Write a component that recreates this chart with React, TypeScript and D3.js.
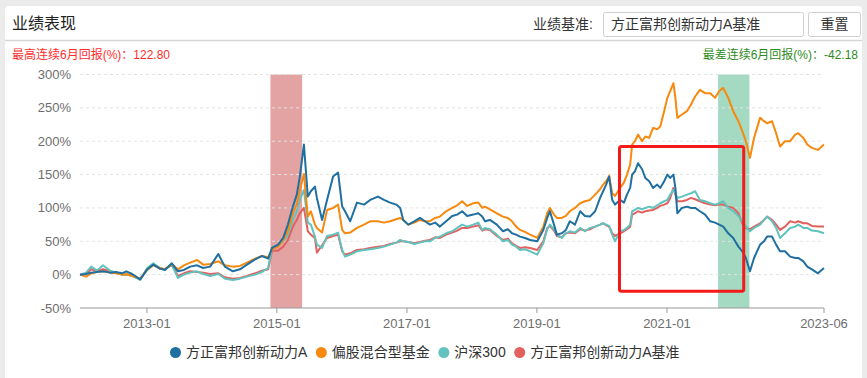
import React, { useMemo } from "react";
import * as d3 from "d3";

const dates = [
  "2011-12-22","2012-01-25","2012-02-23","2012-03-26","2012-04-29","2012-06-08","2012-07-11","2012-08-14","2012-09-07","2012-10-10","2012-11-24",
  "2013-01-03","2013-02-06","2013-03-15","2013-04-12","2013-05-21","2013-06-24","2013-07-28","2013-09-01","2013-10-10","2013-11-13","2013-12-22",
  "2014-02-06","2014-03-15","2014-04-29","2014-06-08","2014-07-17","2014-09-01","2014-10-10","2014-11-13","2014-12-05",
  "2015-01-08","2015-02-06","2015-03-04","2015-04-01","2015-04-23","2015-05-10","2015-06-02","2015-06-24","2015-07-11","2015-08-03","2015-08-14","2015-09-12","2015-10-10","2015-11-13","2015-12-11",
  "2016-01-03","2016-01-19","2016-02-17","2016-03-26","2016-05-05","2016-06-08","2016-07-22","2016-08-25","2016-09-28","2016-11-02","2016-11-24","2016-12-11",
  "2017-01-08","2017-02-11","2017-03-15","2017-04-12","2017-05-10","2017-06-08","2017-07-05","2017-08-09","2017-09-12","2017-10-10","2017-11-07","2017-12-05",
  "2018-01-08","2018-02-06","2018-02-28","2018-03-15","2018-04-12","2018-05-21","2018-06-24","2018-07-22","2018-08-14","2018-09-06","2018-09-28","2018-10-26","2018-11-24",
  "2019-01-03","2019-02-06","2019-02-28","2019-03-15","2019-04-07","2019-04-23","2019-05-21","2019-06-13","2019-07-05","2019-08-03","2019-09-01","2019-09-28","2019-10-26","2019-11-24","2019-12-22",
  "2020-01-08","2020-01-25","2020-02-11","2020-02-28","2020-03-15","2020-04-12","2020-05-04","2020-05-21","2020-06-08","2020-06-19","2020-07-05","2020-07-22","2020-08-14","2020-09-01","2020-09-23","2020-10-15","2020-11-07","2020-11-24","2020-12-16",
  "2021-01-03","2021-01-19","2021-02-06","2021-02-17","2021-02-28","2021-03-26","2021-04-23","2021-05-16","2021-06-08","2021-07-05","2021-08-03","2021-09-01","2021-09-28","2021-10-21","2021-11-13","2021-12-11",
  "2022-01-08","2022-02-06","2022-02-28","2022-03-20","2022-04-12","2022-05-05","2022-06-08","2022-06-30","2022-07-17","2022-08-14","2022-09-06","2022-09-28","2022-10-26","2022-11-24","2022-12-22",
  "2023-01-08","2023-02-06","2023-02-28","2023-03-26","2023-04-29","2023-06-02",
];

// 方正富邦创新动力A
const fundA = [
  0,1,3,4,5,3,4,2,5,1,-7,
  8,15,9,7,17,5,7,12,14,10,12,
  31,12,5,8,15,23,28,24,40,
  45,55,75,102,120,147,195,117,125,132,115,82,112,147,153,
  102,95,80,108,105,112,117,112,108,105,100,82,
  75,80,85,80,75,78,72,80,88,90,95,88,
  90,92,87,80,82,75,65,68,62,60,57,55,52,
  50,67,85,95,75,60,62,67,80,75,95,88,87,95,115,
  125,135,147,112,105,112,108,120,130,150,155,167,158,145,140,130,135,130,140,
  150,145,150,130,92,100,102,100,100,95,90,80,78,75,72,62,
  55,42,35,25,5,25,45,50,57,57,45,35,35,27,25,
  25,20,12,8,2,10,
];

// 偏股混合型基金
const fundType = [
  0,-3,2,4,5,3,2,0,1,-2,-6,
  7,14,10,8,16,8,14,18,22,15,16,
  20,14,12,13,18,24,28,26,38,
  42,52,65,93,105,127,151,87,95,75,70,63,97,100,105,
  67,62,63,70,75,80,80,78,80,83,85,82,
  75,78,82,80,80,85,87,95,100,104,110,103,
  107,108,100,102,98,92,87,85,80,72,67,64,60,
  55,72,92,100,90,85,85,88,95,100,107,110,112,120,128,
  135,140,148,122,118,130,138,150,165,195,200,210,200,207,205,220,218,222,245,
  265,275,287,265,235,240,245,255,267,277,272,272,265,275,280,265,
  245,230,215,200,175,205,235,230,227,230,212,192,200,200,210,
  212,205,195,190,187,195,
];

// 沪深300
const hs300 = [
  0,3,12,6,14,6,3,0,0,-2,-8,
  10,17,10,8,15,-5,0,3,5,1,-2,
  1,-6,-8,-6,-3,0,4,10,40,
  45,50,60,82,95,112,127,78,75,57,45,40,58,60,63,
  37,27,30,35,37,38,40,42,45,48,52,50,
  49,46,48,50,50,55,57,62,65,70,75,72,
  75,78,67,70,68,60,50,52,45,42,37,38,35,
  30,47,68,75,68,60,55,62,65,63,70,65,70,72,75,
  77,75,73,60,50,65,67,70,75,95,97,100,98,100,102,100,104,107,110,
  112,120,127,122,115,117,120,122,125,112,110,107,105,107,110,100,
  95,88,80,72,65,70,75,82,87,80,70,55,62,70,72,
  75,70,70,66,65,62,
];

// 方正富邦创新动力A基准
const benchmark = [
  0,1,8,5,8,5,3,0,0,-1,-7,
  9,16,9,8,15,-2,2,5,4,3,1,
  2,-4,-6,-5,-2,2,6,8,36,
  36,42,52,72,82,92,100,65,60,55,33,44,55,58,60,
  35,30,32,37,38,40,42,43,46,48,50,50,
  49,47,49,51,52,56,55,60,63,66,70,70,
  72,74,66,68,67,58,52,54,47,43,40,41,40,
  37,50,70,73,66,58,56,62,63,62,68,66,68,72,75,
  77,74,72,62,58,62,65,68,72,90,92,95,93,95,96,97,100,103,105,
  107,115,130,120,110,110,112,115,113,110,107,105,104,105,105,102,
  100,92,77,70,68,72,77,82,87,82,75,67,72,80,78,
  80,77,77,73,72,72,
];

const seriesNames = ["方正富邦创新动力A", "偏股混合型基金", "沪深300", "方正富邦创新动力A基准"];
const seriesColors = ["#1f6fa0", "#f7890e", "#62c3be", "#e2605e"];
const seriesValues = [fundA, fundType, hs300, benchmark];

const yTicks = [-50, 0, 50, 100, 150, 200, 250, 300];
const xTickDates = ["2013-01-01", "2015-01-01", "2017-01-01", "2019-01-01", "2021-01-01"];
const xTickLabels = ["2013-01", "2015-01", "2017-01", "2019-01", "2021-01"];
const xEndLabel = "2023-06";

// highlighted periods: best and worst 6-month windows
const bestPeriod = ["2014-11-26", "2015-05-23"];
const worstPeriod = ["2021-10-15", "2022-04-09"];
// annotation box (dates, values %)
const annotBox = { from: "2020-04-09", to: "2022-03-08", top: 192, bottom: -25 };

const titleText = "业绩表现";
const benchLabel = "业绩基准:";
const benchValue = "方正富邦创新动力A基准";
const resetText = "重置";
const bestText = "最高连续6月回报(%)：122.80";
const worstText = "最差连续6月回报(%)：-42.18";

const FONT = "'Liberation Sans', Arial, 'Noto Sans CJK SC', sans-serif";

function measure(text: string, size: number) {
  const c = document.createElement("canvas").getContext("2d");
  if (!c) return text.length * size;
  c.font = `${size}px ${FONT}`;
  return c.measureText(text).width;
}

export default function App() {
  const W = 867, H = 378;
  const left = 80, right = 824, top = 74.5, bottom = 308;
  const parse = d3.timeParse("%Y-%m-%d");
  const dts = dates.map((d) => parse(d) as Date);

  const x = d3.scaleTime().domain([dts[0], dts[dts.length - 1]]).range([left, right]);
  const y = d3.scaleLinear().domain([-50, 300]).range([bottom, top]);

  const line = d3
    .line<number>()
    .x((_, i) => x(dts[i]))
    .y((v) => y(v))
    .curve(d3.curveLinear);

  const legendItems = useMemo(() => {
    let cx = 175.5;
    return seriesNames.map((n, i) => {
      const w = measure(n, 14);
      const item = { cx, tx: cx + 10.5, name: n, color: seriesColors[i] };
      cx = cx + 10.5 + w + 14;
      return item;
    });
  }, []);

  const drawOrder = [3, 2, 1, 0];

  return (
    <svg
      width={W}
      height={H}
      style={{ position: "absolute", left: 0, top: 0, fontFamily: FONT }}
    >
      <rect x={0} y={0} width={W} height={H} fill="#ebebeb" />
      <rect x={5} y={6} width={857} height={H + 10} rx={4} fill="#ffffff" />

      {/* header */}
      <text x={12} y={29} fontSize={16} fill="#222">{titleText}</text>
      <text x={533} y={29} fontSize={14} fill="#333">{benchLabel}</text>
      <rect x={603.5} y={12.5} width={200} height={24} rx={2} fill="#fff" stroke="#cfcfcf" />
      <text x={611} y={29} fontSize={14} fill="#333">{benchValue}</text>
      <rect x={808.5} y={12.5} width={52} height={24} rx={2} fill="#fff" stroke="#cfcfcf" />
      <text x={834.5} y={29} fontSize={14} fill="#333" textAnchor="middle">{resetText}</text>
      <line x1={5} x2={862} y1={40.5} y2={40.5} stroke="#d6d6d6" strokeWidth={1.5} />

      <text x={12} y={59} fontSize={12} fill="#ff2d2d">{bestText}</text>
      <text x={858} y={59} fontSize={12} fill="#2f8a1e" textAnchor="end">{worstText}</text>

      {/* highlight bands */}
      <rect
        x={x(parse(bestPeriod[0]) as Date)}
        y={top}
        width={x(parse(bestPeriod[1]) as Date) - x(parse(bestPeriod[0]) as Date)}
        height={bottom - top}
        fill="#e3a3a3"
      />
      <rect
        x={x(parse(worstPeriod[0]) as Date)}
        y={top}
        width={x(parse(worstPeriod[1]) as Date) - x(parse(worstPeriod[0]) as Date)}
        height={bottom - top}
        fill="#a4d9c2"
      />

      {/* grid */}
      {yTicks.map((t) => (
        <g key={t}>
          {t !== -50 && (
            <line x1={left} x2={right} y1={y(t)} y2={y(t)} stroke="#e3e3e3" strokeDasharray="3,3" />
          )}
          <text x={71} y={y(t)} dy="0.35em" fontSize={13} fill="#6e6e6e" textAnchor="end">
            {`${t}%`}
          </text>
        </g>
      ))}

      {/* lines */}
      {drawOrder.map((i) => (
        <path
          key={i}
          d={line(seriesValues[i]) || ""}
          fill="none"
          stroke={seriesColors[i]}
          strokeWidth={2}
          strokeLinejoin="round"
        />
      ))}

      {/* x axis */}
      <line x1={left} x2={right} y1={bottom} y2={bottom} stroke="#9a9a9a" strokeWidth={1.2} />
      {xTickDates.map((d, i) => {
        const px = x(parse(d) as Date);
        return (
          <g key={d}>
            <line x1={px} x2={px} y1={bottom} y2={bottom + 5} stroke="#9a9a9a" />
            <text x={px} y={328} fontSize={13} fill="#6e6e6e" textAnchor="middle">{xTickLabels[i]}</text>
          </g>
        );
      })}
      <line x1={right} x2={right} y1={bottom} y2={bottom + 5} stroke="#9a9a9a" />
      <text x={right} y={328} fontSize={13} fill="#6e6e6e" textAnchor="middle">{xEndLabel}</text>

      {/* annotation box */}
      <rect
        x={x(parse(annotBox.from) as Date)}
        y={y(annotBox.top)}
        width={x(parse(annotBox.to) as Date) - x(parse(annotBox.from) as Date)}
        height={y(annotBox.bottom) - y(annotBox.top)}
        fill="none"
        stroke="#f41a1a"
        strokeWidth={3}
        rx={2}
      />

      {/* legend */}
      {legendItems.map((it) => (
        <g key={it.name}>
          <circle cx={it.cx} cy={352.5} r={5.5} fill={it.color} />
          <text x={it.tx} y={352.5} dy="0.35em" fontSize={14} fill="#333">{it.name}</text>
        </g>
      ))}
    </svg>
  );
}
